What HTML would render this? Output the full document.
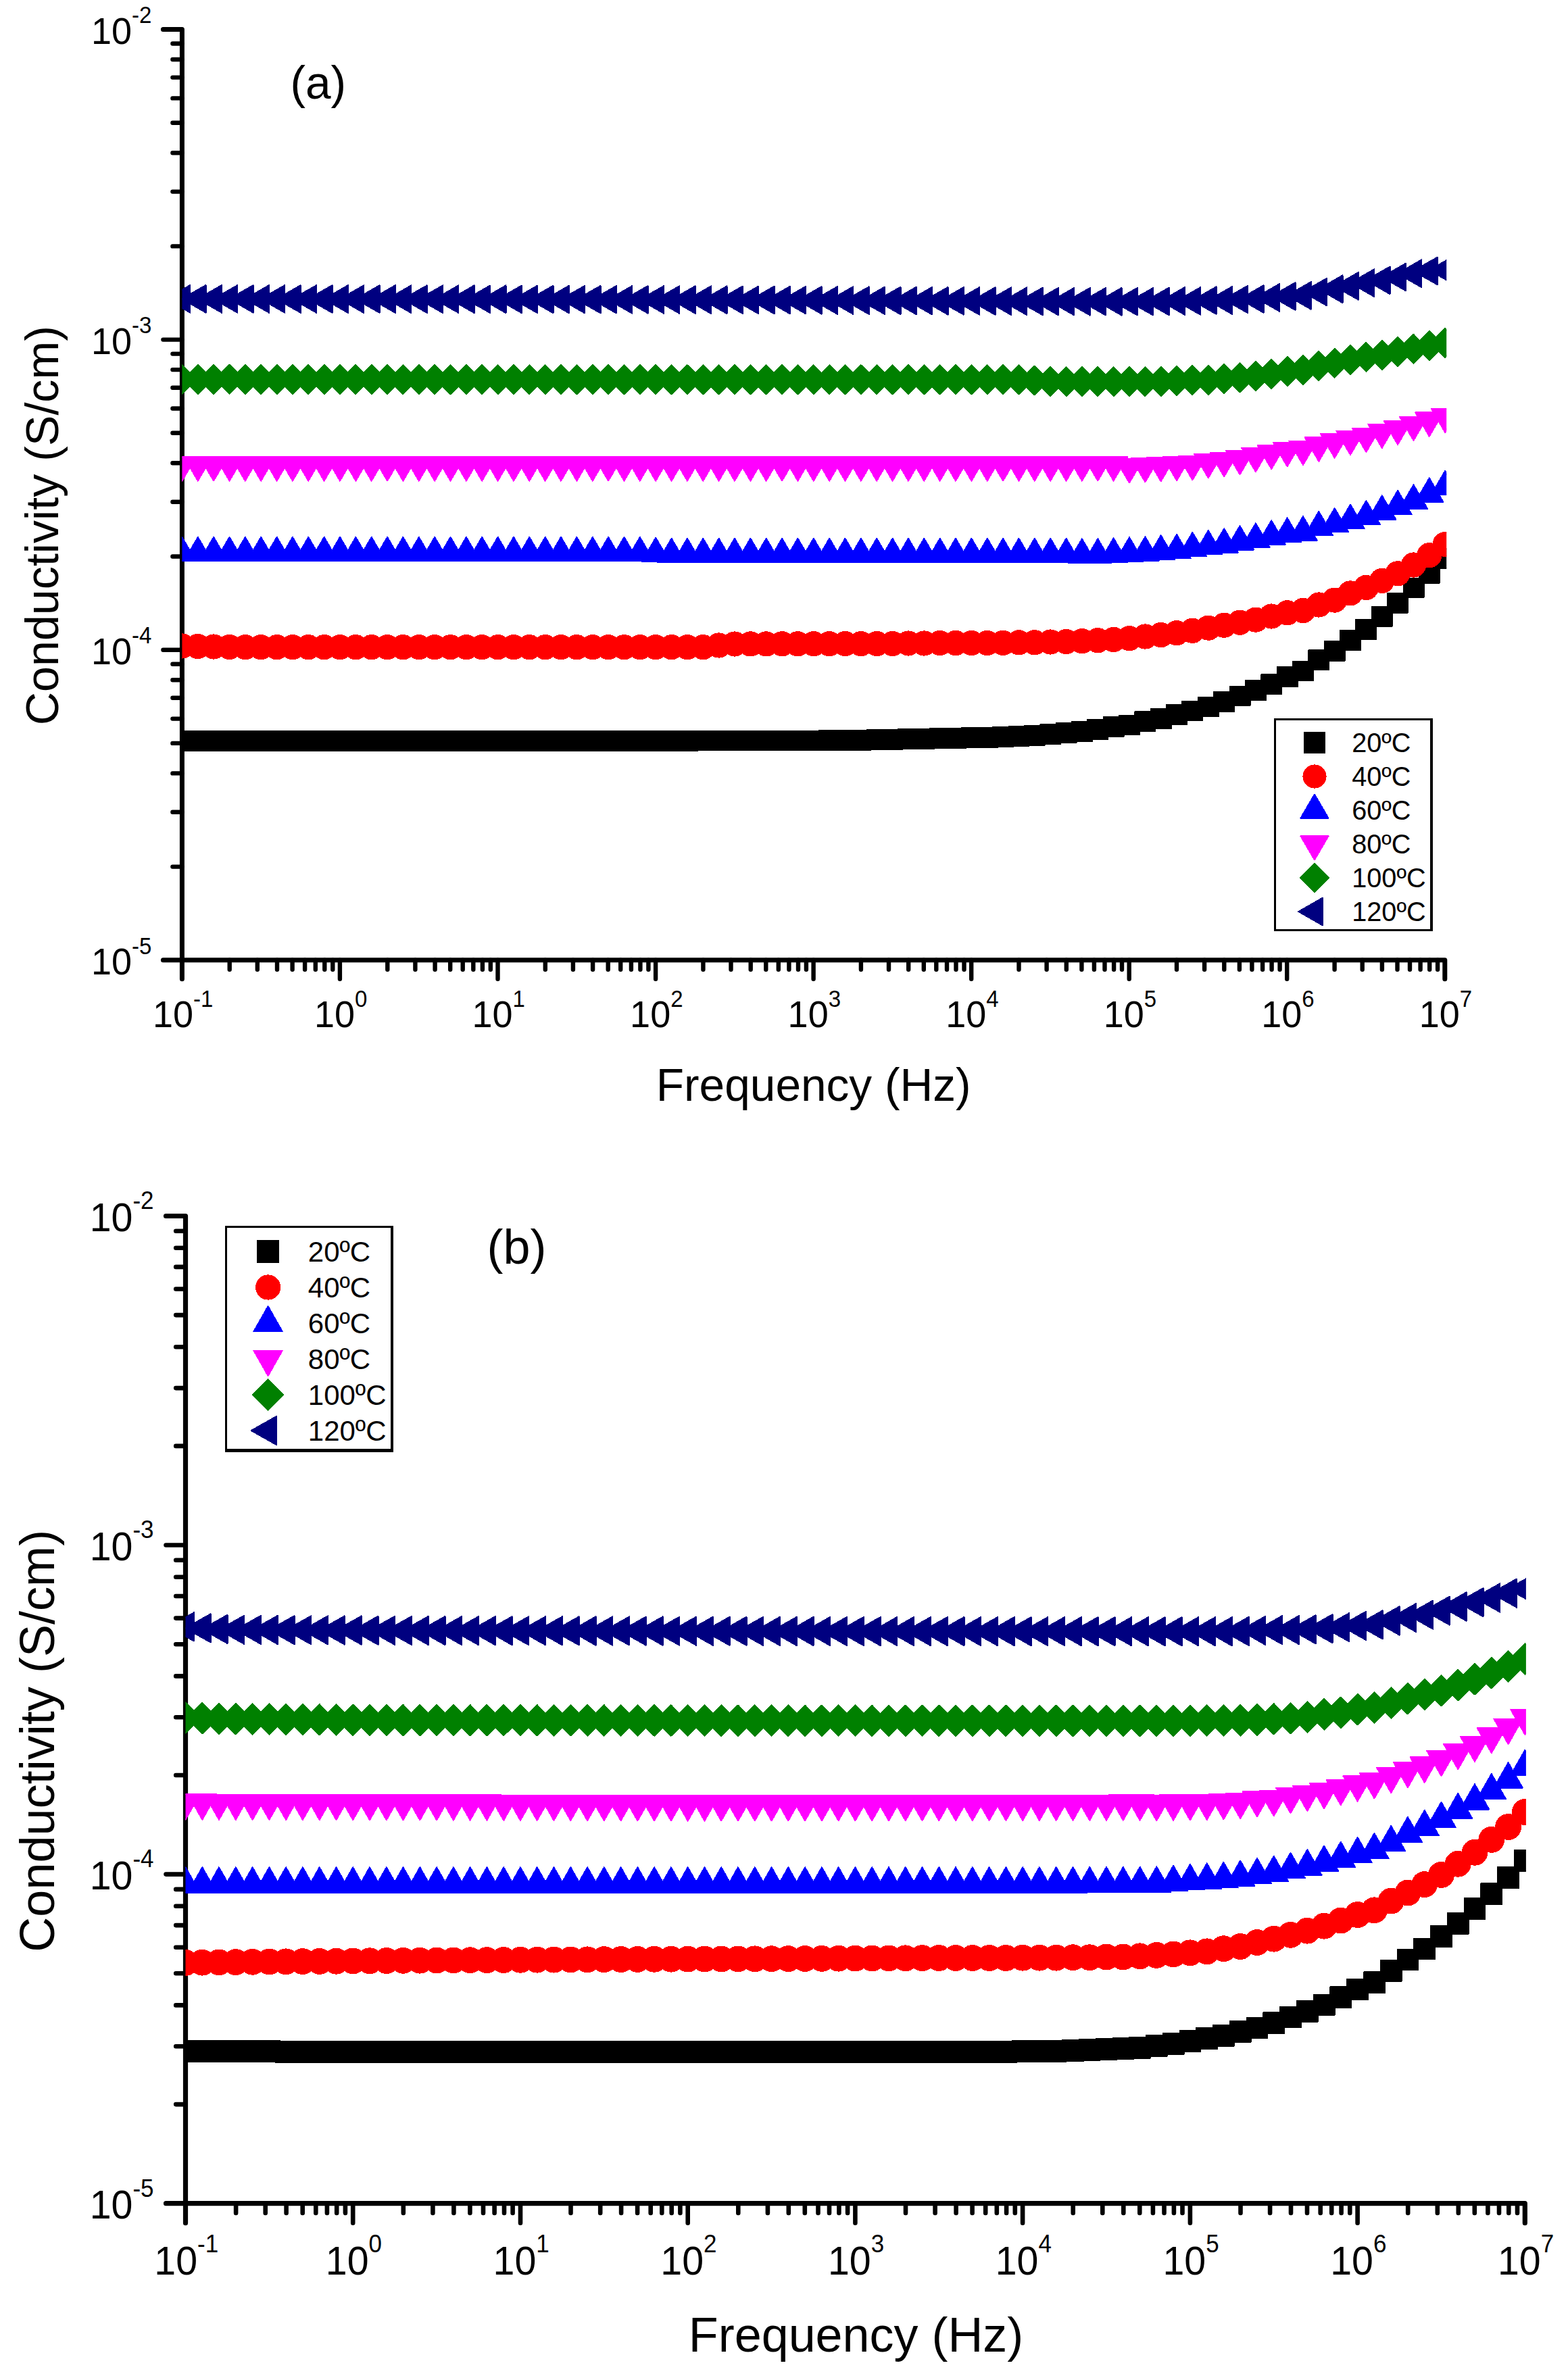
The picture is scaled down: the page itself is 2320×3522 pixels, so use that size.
<!DOCTYPE html>
<html lang="en"><head><meta charset="utf-8"><title>Conductivity vs Frequency</title>
<style>html,body{margin:0;padding:0;background:#fff;overflow:hidden}svg{display:block}text{font-family:'Liberation Sans', sans-serif}</style>
</head><body>
<svg width="2320" height="3522" viewBox="0 0 2320 3522">
<rect width="2320" height="3522" fill="#fff"/>
<g stroke="#000" fill="none" stroke-linecap="round" stroke-linejoin="round">
<path stroke-width="7" d="M241.4 43.5H269.4V1448.8"/>
<path stroke-width="7" d="M241.4 1420.8H2137.8V1448.8"/>
<path stroke-width="6.4" d="M269.4 364.4H255.4M269.4 283.6H255.4M269.4 226.2H255.4M269.4 181.7H255.4M269.4 145.4H255.4M269.4 114.6H255.4M269.4 88H255.4M269.4 64.5H255.4M269.4 502.6H241.4M269.4 823.5H255.4M269.4 742.7H255.4M269.4 685.3H255.4M269.4 640.8H255.4M269.4 604.5H255.4M269.4 573.7H255.4M269.4 547.1H255.4M269.4 523.6H255.4M269.4 961.7H241.4M269.4 1282.6H255.4M269.4 1201.8H255.4M269.4 1144.4H255.4M269.4 1099.9H255.4M269.4 1063.6H255.4M269.4 1032.8H255.4M269.4 1006.2H255.4M269.4 982.7H255.4M339.7 1420.8V1434.8M380.8 1420.8V1434.8M410 1420.8V1434.8M432.6 1420.8V1434.8M451.1 1420.8V1434.8M466.8 1420.8V1434.8M480.3 1420.8V1434.8M492.3 1420.8V1434.8M502.9 1420.8V1448.8M573.3 1420.8V1434.8M614.4 1420.8V1434.8M643.6 1420.8V1434.8M666.2 1420.8V1434.8M684.7 1420.8V1434.8M700.3 1420.8V1434.8M713.9 1420.8V1434.8M725.8 1420.8V1434.8M736.5 1420.8V1448.8M806.8 1420.8V1434.8M847.9 1420.8V1434.8M877.1 1420.8V1434.8M899.7 1420.8V1434.8M918.2 1420.8V1434.8M933.9 1420.8V1434.8M947.4 1420.8V1434.8M959.4 1420.8V1434.8M970.1 1420.8V1448.8M1040.4 1420.8V1434.8M1081.5 1420.8V1434.8M1110.7 1420.8V1434.8M1133.3 1420.8V1434.8M1151.8 1420.8V1434.8M1167.4 1420.8V1434.8M1181 1420.8V1434.8M1192.9 1420.8V1434.8M1203.6 1420.8V1448.8M1273.9 1420.8V1434.8M1315 1420.8V1434.8M1344.2 1420.8V1434.8M1366.8 1420.8V1434.8M1385.3 1420.8V1434.8M1401 1420.8V1434.8M1414.5 1420.8V1434.8M1426.5 1420.8V1434.8M1437.2 1420.8V1448.8M1507.5 1420.8V1434.8M1548.6 1420.8V1434.8M1577.8 1420.8V1434.8M1600.4 1420.8V1434.8M1618.9 1420.8V1434.8M1634.5 1420.8V1434.8M1648.1 1420.8V1434.8M1660 1420.8V1434.8M1670.7 1420.8V1448.8M1741 1420.8V1434.8M1782.1 1420.8V1434.8M1811.3 1420.8V1434.8M1833.9 1420.8V1434.8M1852.4 1420.8V1434.8M1868.1 1420.8V1434.8M1881.6 1420.8V1434.8M1893.6 1420.8V1434.8M1904.2 1420.8V1448.8M1974.6 1420.8V1434.8M2015.7 1420.8V1434.8M2044.9 1420.8V1434.8M2067.5 1420.8V1434.8M2086 1420.8V1434.8M2101.6 1420.8V1434.8M2115.2 1420.8V1434.8M2127.1 1420.8V1434.8"/>
</g>
<g fill="#000">
<text transform="translate(134.9 64.8) scale(1 1.04)" font-size="54" text-anchor="start">10<tspan font-size="33" dy="-29.4">-2</tspan></text>
<text transform="translate(134.9 523.9) scale(1 1.04)" font-size="54" text-anchor="start">10<tspan font-size="33" dy="-29.4">-3</tspan></text>
<text transform="translate(134.9 983) scale(1 1.04)" font-size="54" text-anchor="start">10<tspan font-size="33" dy="-29.4">-4</tspan></text>
<text transform="translate(134.9 1442.1) scale(1 1.04)" font-size="54" text-anchor="start">10<tspan font-size="33" dy="-29.4">-5</tspan></text>
<text transform="translate(270.6 1520.3) scale(1 1.04)" font-size="54" text-anchor="middle">10<tspan font-size="33" dy="-29.4">-1</tspan></text>
<text transform="translate(504.1 1520.3) scale(1 1.04)" font-size="54" text-anchor="middle">10<tspan font-size="33" dy="-29.4">0</tspan></text>
<text transform="translate(737.7 1520.3) scale(1 1.04)" font-size="54" text-anchor="middle">10<tspan font-size="33" dy="-29.4">1</tspan></text>
<text transform="translate(971.3 1520.3) scale(1 1.04)" font-size="54" text-anchor="middle">10<tspan font-size="33" dy="-29.4">2</tspan></text>
<text transform="translate(1204.8 1520.3) scale(1 1.04)" font-size="54" text-anchor="middle">10<tspan font-size="33" dy="-29.4">3</tspan></text>
<text transform="translate(1438.4 1520.3) scale(1 1.04)" font-size="54" text-anchor="middle">10<tspan font-size="33" dy="-29.4">4</tspan></text>
<text transform="translate(1671.9 1520.3) scale(1 1.04)" font-size="54" text-anchor="middle">10<tspan font-size="33" dy="-29.4">5</tspan></text>
<text transform="translate(1905.5 1520.3) scale(1 1.04)" font-size="54" text-anchor="middle">10<tspan font-size="33" dy="-29.4">6</tspan></text>
<text transform="translate(2139 1520.3) scale(1 1.04)" font-size="54" text-anchor="middle">10<tspan font-size="33" dy="-29.4">7</tspan></text>
<text x="1203.7" y="1628.5" font-size="67.6" text-anchor="middle">Frequency (Hz)</text>
<text transform="translate(86.3 777.6) rotate(-90)" font-size="68.2" text-anchor="middle">Conductivity (S/cm)</text>
<text x="429.5" y="145.5" font-size="67.6">(a)</text>
</g>
<clipPath id="clipa"><rect x="269.4" y="23.5" width="1870.8" height="1397.3"/></clipPath>
<g clip-path="url(#clipa)" shape-rendering="crispEdges" stroke-width="2.0" stroke-linejoin="round">
<g fill="#000000" stroke="#000000"><path d="M254.4 1081.8h30v28.9h-30zM277.8 1081.8h30v28.9h-30zM301.1 1081.8h30v28.9h-30zM324.5 1081.8h30v28.9h-30zM347.8 1081.8h30v28.9h-30zM371.2 1081.8h30v28.9h-30zM394.6 1081.8h30v28.9h-30zM417.9 1081.8h30v28.9h-30zM441.3 1081.8h30v28.9h-30zM464.6 1081.8h30v28.9h-30zM488 1081.8h30v28.9h-30zM511.4 1081.9h30v28.9h-30zM534.7 1081.9h30v28.9h-30zM558.1 1081.9h30v28.9h-30zM581.4 1081.9h30v28.9h-30zM604.8 1081.9h30v28.9h-30zM628.2 1081.9h30v28.9h-30zM651.5 1081.9h30v28.9h-30zM674.9 1081.9h30v28.9h-30zM698.2 1081.9h30v28.9h-30zM721.6 1081.9h30v28.9h-30zM745 1081.9h30v28.9h-30zM768.3 1082h30v28.9h-30zM791.7 1082h30v28.9h-30zM815 1082h30v28.9h-30zM838.4 1082h30v28.9h-30zM861.8 1082h30v28.9h-30zM885.1 1082h30v28.9h-30zM908.5 1082h30v28.9h-30zM931.8 1082h30v28.9h-30zM955.2 1082h30v28.9h-30zM978.6 1082h30v28.9h-30zM1001.9 1082h30v28.9h-30zM1025.3 1081.5h30v28.9h-30zM1048.6 1081.5h30v28.9h-30zM1072 1081.5h30v28.9h-30zM1095.4 1081.5h30v28.9h-30zM1118.7 1081.5h30v28.9h-30zM1142.1 1081.5h30v28.9h-30zM1165.4 1081.5h30v28.9h-30zM1188.8 1081.5h30v28.9h-30zM1212.2 1081.2h30v28.9h-30zM1235.5 1080.9h30v28.9h-30zM1258.9 1080.6h30v28.9h-30zM1282.2 1080.3h30v28.9h-30zM1305.6 1079.8h30v28.9h-30zM1329 1079.3h30v28.9h-30zM1352.3 1078.8h30v28.9h-30zM1375.7 1078.3h30v28.9h-30zM1399 1077.9h30v28.9h-30zM1422.4 1077.4h30v28.9h-30zM1445.8 1077h30v28.9h-30zM1469.1 1076.1h30v28.9h-30zM1492.5 1075.2h30v28.9h-30zM1515.8 1073.8h30v28.9h-30zM1539.2 1072.4h30v28.9h-30zM1562.6 1069.9h30v28.9h-30zM1585.9 1068.1h30v28.9h-30zM1609.3 1064.8h30v28.9h-30zM1632.6 1061.2h30v28.9h-30zM1656 1058.5h30v28.9h-30zM1679.4 1053.4h30v28.9h-30zM1702.7 1049.3h30v28.9h-30zM1726.1 1043.3h30v28.9h-30zM1749.4 1037.5h30v28.9h-30zM1772.8 1031.5h30v28.9h-30zM1796.2 1024.2h30v28.9h-30zM1819.5 1015.5h30v28.9h-30zM1842.9 1007.3h30v28.9h-30zM1866.2 998.3h30v28.9h-30zM1889.6 987.4h30v28.9h-30zM1913 978.5h30v28.9h-30zM1936.3 962.3h30v28.9h-30zM1959.7 949h30v28.9h-30zM1983 933.1h30v28.9h-30zM2006.4 916.7h30v28.9h-30zM2029.8 897.8h30v28.9h-30zM2053.1 877.7h30v28.9h-30zM2076.5 855.5h30v28.9h-30zM2099.8 833.8h30v28.9h-30zM2123.2 811.7h30v28.9h-30z"/></g>
<g fill="#ff0000" stroke="#ff0000"><circle cx="269.4" cy="956" r="17.6"/><circle cx="292.8" cy="956.5" r="17.6"/><circle cx="316.1" cy="957" r="17.6"/><circle cx="339.5" cy="957.4" r="17.6"/><circle cx="362.8" cy="957.7" r="17.6"/><circle cx="386.2" cy="957.7" r="17.6"/><circle cx="409.6" cy="957.7" r="17.6"/><circle cx="432.9" cy="957.7" r="17.6"/><circle cx="456.3" cy="957.7" r="17.6"/><circle cx="479.6" cy="957.7" r="17.6"/><circle cx="503" cy="957.7" r="17.6"/><circle cx="526.4" cy="957.7" r="17.6"/><circle cx="549.7" cy="957.7" r="17.6"/><circle cx="573.1" cy="957.7" r="17.6"/><circle cx="596.4" cy="957.7" r="17.6"/><circle cx="619.8" cy="957.7" r="17.6"/><circle cx="643.2" cy="957.7" r="17.6"/><circle cx="666.5" cy="957.7" r="17.6"/><circle cx="689.9" cy="957.7" r="17.6"/><circle cx="713.2" cy="957.7" r="17.6"/><circle cx="736.6" cy="957.7" r="17.6"/><circle cx="760" cy="957.7" r="17.6"/><circle cx="783.3" cy="957.7" r="17.6"/><circle cx="806.7" cy="957.7" r="17.6"/><circle cx="830" cy="957.7" r="17.6"/><circle cx="853.4" cy="957.7" r="17.6"/><circle cx="876.8" cy="957.7" r="17.6"/><circle cx="900.1" cy="957.7" r="17.6"/><circle cx="923.5" cy="957.7" r="17.6"/><circle cx="946.8" cy="957.7" r="17.6"/><circle cx="970.2" cy="957.7" r="17.6"/><circle cx="993.6" cy="957.7" r="17.6"/><circle cx="1016.9" cy="957.7" r="17.6"/><circle cx="1040.3" cy="957.7" r="17.6"/><circle cx="1063.6" cy="955" r="17.6"/><circle cx="1087" cy="953" r="17.6"/><circle cx="1110.4" cy="952.9" r="17.6"/><circle cx="1133.7" cy="952.9" r="17.6"/><circle cx="1157.1" cy="952.8" r="17.6"/><circle cx="1180.4" cy="952.8" r="17.6"/><circle cx="1203.8" cy="952.7" r="17.6"/><circle cx="1227.2" cy="952.7" r="17.6"/><circle cx="1250.5" cy="952.6" r="17.6"/><circle cx="1273.9" cy="952.6" r="17.6"/><circle cx="1297.2" cy="952.5" r="17.6"/><circle cx="1320.6" cy="952.5" r="17.6"/><circle cx="1344" cy="952" r="17.6"/><circle cx="1367.3" cy="952" r="17.6"/><circle cx="1390.7" cy="951.5" r="17.6"/><circle cx="1414" cy="951.5" r="17.6"/><circle cx="1437.4" cy="951.5" r="17.6"/><circle cx="1460.8" cy="951.5" r="17.6"/><circle cx="1484.1" cy="951.3" r="17.6"/><circle cx="1507.5" cy="950.8" r="17.6"/><circle cx="1530.8" cy="950.8" r="17.6"/><circle cx="1554.2" cy="950" r="17.6"/><circle cx="1577.6" cy="949.5" r="17.6"/><circle cx="1600.9" cy="948.7" r="17.6"/><circle cx="1624.3" cy="947.7" r="17.6"/><circle cx="1647.6" cy="946.4" r="17.6"/><circle cx="1671" cy="944.6" r="17.6"/><circle cx="1694.4" cy="942" r="17.6"/><circle cx="1717.7" cy="939.6" r="17.6"/><circle cx="1741.1" cy="936.7" r="17.6"/><circle cx="1764.4" cy="933.3" r="17.6"/><circle cx="1787.8" cy="929.2" r="17.6"/><circle cx="1811.2" cy="925.2" r="17.6"/><circle cx="1834.5" cy="921.2" r="17.6"/><circle cx="1857.9" cy="917.1" r="17.6"/><circle cx="1881.2" cy="912" r="17.6"/><circle cx="1904.6" cy="906.8" r="17.6"/><circle cx="1928" cy="903.5" r="17.6"/><circle cx="1951.3" cy="895" r="17.6"/><circle cx="1974.7" cy="888.1" r="17.6"/><circle cx="1998" cy="877.9" r="17.6"/><circle cx="2021.4" cy="869.4" r="17.6"/><circle cx="2044.8" cy="859.4" r="17.6"/><circle cx="2068.1" cy="848.8" r="17.6"/><circle cx="2091.5" cy="836" r="17.6"/><circle cx="2114.8" cy="821.6" r="17.6"/><circle cx="2138.2" cy="805.5" r="17.6"/></g>
<g fill="#0000ff" stroke="#0000ff"><path d="M269.4 794.9L290 830.2L248.8 830.2zM292.8 794.9L313.4 830.2L272.2 830.2zM316.1 794.9L336.7 830.2L295.5 830.2zM339.5 794.9L360.1 830.2L318.9 830.2zM362.8 794.9L383.4 830.2L342.2 830.2zM386.2 794.9L406.8 830.2L365.6 830.2zM409.6 794.9L430.2 830.2L389 830.2zM432.9 794.9L453.5 830.2L412.3 830.2zM456.3 794.9L476.9 830.2L435.7 830.2zM479.6 794.9L500.2 830.2L459 830.2zM503 794.9L523.6 830.2L482.4 830.2zM526.4 794.9L547 830.2L505.8 830.2zM549.7 794.9L570.3 830.2L529.1 830.2zM573.1 794.9L593.7 830.2L552.5 830.2zM596.4 794.9L617 830.2L575.8 830.2zM619.8 794.9L640.4 830.2L599.2 830.2zM643.2 794.9L663.8 830.2L622.6 830.2zM666.5 794.9L687.1 830.2L645.9 830.2zM689.9 794.9L710.5 830.2L669.3 830.2zM713.2 794.9L733.8 830.2L692.6 830.2zM736.6 794.9L757.2 830.2L716 830.2zM760 794.9L780.6 830.2L739.4 830.2zM783.3 794.9L803.9 830.2L762.7 830.2zM806.7 794.9L827.3 830.2L786.1 830.2zM830 794.9L850.6 830.2L809.4 830.2zM853.4 794.9L874 830.2L832.8 830.2zM876.8 794.9L897.4 830.2L856.2 830.2zM900.1 794.9L920.7 830.2L879.5 830.2zM923.5 794.9L944.1 830.2L902.9 830.2zM946.8 794.9L967.4 830.2L926.2 830.2zM970.2 795.8L990.8 831.1L949.6 831.1zM993.6 796.8L1014.2 832.1L973 832.1zM1016.9 796.8L1037.5 832.1L996.3 832.1zM1040.3 796.8L1060.9 832.1L1019.7 832.1zM1063.6 796.8L1084.2 832.1L1043 832.1zM1087 796.8L1107.6 832.1L1066.4 832.1zM1110.4 796.8L1131 832.1L1089.8 832.1zM1133.7 796.8L1154.3 832.1L1113.1 832.1zM1157.1 796.8L1177.7 832.1L1136.5 832.1zM1180.4 796.8L1201 832.1L1159.8 832.1zM1203.8 796.8L1224.4 832.1L1183.2 832.1zM1227.2 796.8L1247.8 832.1L1206.6 832.1zM1250.5 796.8L1271.1 832.1L1229.9 832.1zM1273.9 796.8L1294.5 832.1L1253.3 832.1zM1297.2 796.8L1317.8 832.1L1276.6 832.1zM1320.6 796.8L1341.2 832.1L1300 832.1zM1344 796.8L1364.6 832.1L1323.4 832.1zM1367.3 796.8L1387.9 832.1L1346.7 832.1zM1390.7 796.8L1411.3 832.1L1370.1 832.1zM1414 796.8L1434.6 832.1L1393.4 832.1zM1437.4 796.8L1458 832.1L1416.8 832.1zM1460.8 796.8L1481.4 832.1L1440.2 832.1zM1484.1 796.8L1504.7 832.1L1463.5 832.1zM1507.5 796.8L1528.1 832.1L1486.9 832.1zM1530.8 796.8L1551.4 832.1L1510.2 832.1zM1554.2 796.8L1574.8 832.1L1533.6 832.1zM1577.6 796.8L1598.2 832.1L1557 832.1zM1600.9 797.4L1621.5 832.7L1580.3 832.7zM1624.3 797.4L1644.9 832.7L1603.7 832.7zM1647.6 796.4L1668.2 831.7L1627 831.7zM1671 795.3L1691.6 830.6L1650.4 830.6zM1694.4 794.3L1715 829.6L1673.8 829.6zM1717.7 792.3L1738.3 827.6L1697.1 827.6zM1741.1 791L1761.7 826.3L1720.5 826.3zM1764.4 787.9L1785 823.2L1743.8 823.2zM1787.8 785.1L1808.4 820.4L1767.2 820.4zM1811.2 782.3L1831.8 817.6L1790.6 817.6zM1834.5 778.2L1855.1 813.5L1813.9 813.5zM1857.9 774.4L1878.5 809.7L1837.3 809.7zM1881.2 770.3L1901.8 805.6L1860.6 805.6zM1904.6 766.5L1925.2 801.8L1884 801.8zM1928 764.2L1948.6 799.5L1907.4 799.5zM1951.3 757L1971.9 792.3L1930.7 792.3zM1974.7 752.1L1995.3 787.4L1954.1 787.4zM1998 746.7L2018.6 782L1977.4 782zM2021.4 741L2042 776.3L2000.8 776.3zM2044.8 733.5L2065.4 768.8L2024.2 768.8zM2068.1 726L2088.7 761.3L2047.5 761.3zM2091.5 717.5L2112.1 752.8L2070.9 752.8zM2114.8 707.5L2135.4 742.8L2094.2 742.8zM2138.2 696.8L2158.8 732.1L2117.6 732.1z"/></g>
<g fill="#ff00ff" stroke="#ff00ff"><path d="M269.4 711.6L290 676.3L248.8 676.3zM292.8 711.6L313.4 676.3L272.2 676.3zM316.1 711.6L336.7 676.3L295.5 676.3zM339.5 711.6L360.1 676.3L318.9 676.3zM362.8 711.6L383.4 676.3L342.2 676.3zM386.2 711.6L406.8 676.3L365.6 676.3zM409.6 711.6L430.2 676.3L389 676.3zM432.9 711.6L453.5 676.3L412.3 676.3zM456.3 711.6L476.9 676.3L435.7 676.3zM479.6 711.6L500.2 676.3L459 676.3zM503 711.6L523.6 676.3L482.4 676.3zM526.4 711.6L547 676.3L505.8 676.3zM549.7 711.6L570.3 676.3L529.1 676.3zM573.1 711.6L593.7 676.3L552.5 676.3zM596.4 711.6L617 676.3L575.8 676.3zM619.8 711.6L640.4 676.3L599.2 676.3zM643.2 711.6L663.8 676.3L622.6 676.3zM666.5 711.6L687.1 676.3L645.9 676.3zM689.9 711.6L710.5 676.3L669.3 676.3zM713.2 711.6L733.8 676.3L692.6 676.3zM736.6 711.6L757.2 676.3L716 676.3zM760 711.6L780.6 676.3L739.4 676.3zM783.3 711.6L803.9 676.3L762.7 676.3zM806.7 711.6L827.3 676.3L786.1 676.3zM830 711.6L850.6 676.3L809.4 676.3zM853.4 711.6L874 676.3L832.8 676.3zM876.8 711.6L897.4 676.3L856.2 676.3zM900.1 711.6L920.7 676.3L879.5 676.3zM923.5 711.6L944.1 676.3L902.9 676.3zM946.8 711.6L967.4 676.3L926.2 676.3zM970.2 711.6L990.8 676.3L949.6 676.3zM993.6 711.6L1014.2 676.3L973 676.3zM1016.9 711.6L1037.5 676.3L996.3 676.3zM1040.3 711.6L1060.9 676.3L1019.7 676.3zM1063.6 711.6L1084.2 676.3L1043 676.3zM1087 711.6L1107.6 676.3L1066.4 676.3zM1110.4 711.6L1131 676.3L1089.8 676.3zM1133.7 711.6L1154.3 676.3L1113.1 676.3zM1157.1 711.6L1177.7 676.3L1136.5 676.3zM1180.4 711.6L1201 676.3L1159.8 676.3zM1203.8 711.6L1224.4 676.3L1183.2 676.3zM1227.2 711.6L1247.8 676.3L1206.6 676.3zM1250.5 711.6L1271.1 676.3L1229.9 676.3zM1273.9 711.6L1294.5 676.3L1253.3 676.3zM1297.2 711.6L1317.8 676.3L1276.6 676.3zM1320.6 711.6L1341.2 676.3L1300 676.3zM1344 711.6L1364.6 676.3L1323.4 676.3zM1367.3 711.6L1387.9 676.3L1346.7 676.3zM1390.7 711.6L1411.3 676.3L1370.1 676.3zM1414 711.6L1434.6 676.3L1393.4 676.3zM1437.4 711.6L1458 676.3L1416.8 676.3zM1460.8 711.6L1481.4 676.3L1440.2 676.3zM1484.1 711.6L1504.7 676.3L1463.5 676.3zM1507.5 711.6L1528.1 676.3L1486.9 676.3zM1530.8 711.6L1551.4 676.3L1510.2 676.3zM1554.2 711.6L1574.8 676.3L1533.6 676.3zM1577.6 711.6L1598.2 676.3L1557 676.3zM1600.9 711.6L1621.5 676.3L1580.3 676.3zM1624.3 711.5L1644.9 676.2L1603.7 676.2zM1647.6 711.5L1668.2 676.2L1627 676.2zM1671 714.5L1691.6 679.2L1650.4 679.2zM1694.4 713.4L1715 678.1L1673.8 678.1zM1717.7 712.3L1738.3 677L1697.1 677zM1741.1 711.2L1761.7 675.9L1720.5 675.9zM1764.4 710.3L1785 675L1743.8 675zM1787.8 707.2L1808.4 671.9L1767.2 671.9zM1811.2 705.3L1831.8 670L1790.6 670zM1834.5 702.2L1855.1 666.9L1813.9 666.9zM1857.9 698.2L1878.5 662.9L1837.3 662.9zM1881.2 694.1L1901.8 658.8L1860.6 658.8zM1904.6 690.3L1925.2 655L1884 655zM1928 688L1948.6 652.7L1907.4 652.7zM1951.3 682.7L1971.9 647.4L1930.7 647.4zM1974.7 677.6L1995.3 642.3L1954.1 642.3zM1998 673L2018.6 637.7L1977.4 637.7zM2021.4 669L2042 633.7L2000.8 633.7zM2044.8 662.9L2065.4 627.6L2024.2 627.6zM2068.1 657.9L2088.7 622.6L2047.5 622.6zM2091.5 651.8L2112.1 616.5L2070.9 616.5zM2114.8 645.7L2135.4 610.4L2094.2 610.4zM2138.2 639.9L2158.8 604.6L2117.6 604.6z"/></g>
<g fill="#008000" stroke="#008000"><path d="M269.4 539.9L290.9 561.4L269.4 582.9L247.9 561.4zM292.8 539.9L314.3 561.4L292.8 582.9L271.3 561.4zM316.1 539.9L337.6 561.4L316.1 582.9L294.6 561.4zM339.5 539.9L361 561.4L339.5 582.9L318 561.4zM362.8 539.9L384.3 561.4L362.8 582.9L341.3 561.4zM386.2 540L407.7 561.5L386.2 583L364.7 561.5zM409.6 540L431.1 561.5L409.6 583L388.1 561.5zM432.9 540L454.4 561.5L432.9 583L411.4 561.5zM456.3 540L477.8 561.5L456.3 583L434.8 561.5zM479.6 540L501.1 561.5L479.6 583L458.1 561.5zM503 540L524.5 561.5L503 583L481.5 561.5zM526.4 540L547.9 561.5L526.4 583L504.9 561.5zM549.7 540L571.2 561.5L549.7 583L528.2 561.5zM573.1 540L594.6 561.5L573.1 583L551.6 561.5zM596.4 540.1L617.9 561.6L596.4 583.1L574.9 561.6zM619.8 540.1L641.3 561.6L619.8 583.1L598.3 561.6zM643.2 540.1L664.7 561.6L643.2 583.1L621.7 561.6zM666.5 540.1L688 561.6L666.5 583.1L645 561.6zM689.9 540.1L711.4 561.6L689.9 583.1L668.4 561.6zM713.2 540.1L734.7 561.6L713.2 583.1L691.7 561.6zM736.6 540.1L758.1 561.6L736.6 583.1L715.1 561.6zM760 540.1L781.5 561.6L760 583.1L738.5 561.6zM783.3 540.2L804.8 561.7L783.3 583.2L761.8 561.7zM806.7 540.2L828.2 561.7L806.7 583.2L785.2 561.7zM830 540.2L851.5 561.7L830 583.2L808.5 561.7zM853.4 540.2L874.9 561.7L853.4 583.2L831.9 561.7zM876.8 540.2L898.3 561.7L876.8 583.2L855.3 561.7zM900.1 540.2L921.6 561.7L900.1 583.2L878.6 561.7zM923.5 540.2L945 561.7L923.5 583.2L902 561.7zM946.8 540.2L968.3 561.7L946.8 583.2L925.3 561.7zM970.2 540.2L991.7 561.7L970.2 583.2L948.7 561.7zM993.6 540.3L1015.1 561.8L993.6 583.3L972.1 561.8zM1016.9 540.3L1038.4 561.8L1016.9 583.3L995.4 561.8zM1040.3 540.3L1061.8 561.8L1040.3 583.3L1018.8 561.8zM1063.6 540.3L1085.1 561.8L1063.6 583.3L1042.1 561.8zM1087 540.3L1108.5 561.8L1087 583.3L1065.5 561.8zM1110.4 540.3L1131.9 561.8L1110.4 583.3L1088.9 561.8zM1133.7 540.3L1155.2 561.8L1133.7 583.3L1112.2 561.8zM1157.1 540.3L1178.6 561.8L1157.1 583.3L1135.6 561.8zM1180.4 540.3L1201.9 561.8L1180.4 583.3L1158.9 561.8zM1203.8 540.3L1225.3 561.8L1203.8 583.3L1182.3 561.8zM1227.2 540.3L1248.7 561.8L1227.2 583.3L1205.7 561.8zM1250.5 540.3L1272 561.8L1250.5 583.3L1229 561.8zM1273.9 540.3L1295.4 561.8L1273.9 583.3L1252.4 561.8zM1297.2 540.3L1318.7 561.8L1297.2 583.3L1275.7 561.8zM1320.6 540.3L1342.1 561.8L1320.6 583.3L1299.1 561.8zM1344 540.3L1365.5 561.8L1344 583.3L1322.5 561.8zM1367.3 540.3L1388.8 561.8L1367.3 583.3L1345.8 561.8zM1390.7 540.3L1412.2 561.8L1390.7 583.3L1369.2 561.8zM1414 540.3L1435.5 561.8L1414 583.3L1392.5 561.8zM1437.4 540.3L1458.9 561.8L1437.4 583.3L1415.9 561.8zM1460.8 540.3L1482.3 561.8L1460.8 583.3L1439.3 561.8zM1484.1 540.3L1505.6 561.8L1484.1 583.3L1462.6 561.8zM1507.5 540.3L1529 561.8L1507.5 583.3L1486 561.8zM1530.8 541.5L1552.3 563L1530.8 584.5L1509.3 563zM1554.2 543.1L1575.7 564.6L1554.2 586.1L1532.7 564.6zM1577.6 543.1L1599.1 564.6L1577.6 586.1L1556.1 564.6zM1600.9 543.1L1622.4 564.6L1600.9 586.1L1579.4 564.6zM1624.3 543.1L1645.8 564.6L1624.3 586.1L1602.8 564.6zM1647.6 543.1L1669.1 564.6L1647.6 586.1L1626.1 564.6zM1671 543.1L1692.5 564.6L1671 586.1L1649.5 564.6zM1694.4 543.1L1715.9 564.6L1694.4 586.1L1672.9 564.6zM1717.7 543.1L1739.2 564.6L1717.7 586.1L1696.2 564.6zM1741.1 542.1L1762.6 563.6L1741.1 585.1L1719.6 563.6zM1764.4 541L1785.9 562.5L1764.4 584L1742.9 562.5zM1787.8 541L1809.3 562.5L1787.8 584L1766.3 562.5zM1811.2 539L1832.7 560.5L1811.2 582L1789.7 560.5zM1834.5 537.2L1856 558.7L1834.5 580.2L1813 558.7zM1857.9 534.9L1879.4 556.4L1857.9 577.9L1836.4 556.4zM1881.2 532.1L1902.7 553.6L1881.2 575.1L1859.7 553.6zM1904.6 528L1926.1 549.5L1904.6 571L1883.1 549.5zM1928 525.9L1949.5 547.4L1928 568.9L1906.5 547.4zM1951.3 519.9L1972.8 541.4L1951.3 562.9L1929.8 541.4zM1974.7 515.8L1996.2 537.3L1974.7 558.8L1953.2 537.3zM1998 511L2019.5 532.5L1998 554L1976.5 532.5zM2021.4 506.9L2042.9 528.4L2021.4 549.9L1999.9 528.4zM2044.8 504L2066.3 525.5L2044.8 547L2023.3 525.5zM2068.1 498.9L2089.6 520.4L2068.1 541.9L2046.6 520.4zM2091.5 494.9L2113 516.4L2091.5 537.9L2070 516.4zM2114.8 490L2136.3 511.5L2114.8 533L2093.3 511.5zM2138.2 485.9L2159.7 507.4L2138.2 528.9L2116.7 507.4z"/></g>
<g fill="#000080" stroke="#000080"><path d="M245.7 442.3L281.3 422L281.3 462.6zM269 442.3L304.6 422L304.6 462.6zM292.4 442.4L328 422.1L328 462.7zM315.7 442.4L351.3 422.1L351.3 462.7zM339.1 442.4L374.7 422.1L374.7 462.7zM362.5 442.4L398.1 422.1L398.1 462.7zM385.8 442.4L421.4 422.1L421.4 462.8zM409.2 442.5L444.8 422.2L444.8 462.8zM432.5 442.5L468.1 422.2L468.1 462.8zM455.9 442.5L491.5 422.2L491.5 462.8zM479.3 442.6L514.9 422.2L514.9 462.9zM502.6 442.6L538.2 422.3L538.2 462.9zM526 442.6L561.6 422.3L561.6 462.9zM549.3 442.6L584.9 422.3L584.9 462.9zM572.7 442.7L608.3 422.4L608.3 463zM596.1 442.7L631.7 422.4L631.7 463zM619.4 442.7L655 422.4L655 463zM642.8 442.7L678.4 422.4L678.4 463zM666.1 442.8L701.7 422.4L701.7 463.1zM689.5 442.8L725.1 422.5L725.1 463.1zM712.9 442.8L748.5 422.5L748.5 463.1zM736.2 442.9L771.8 422.6L771.8 463.2zM759.6 442.9L795.2 422.6L795.2 463.2zM782.9 443L818.5 422.7L818.5 463.3zM806.3 443.1L841.9 422.8L841.9 463.4zM829.7 443.1L865.3 422.8L865.3 463.4zM853 443.2L888.6 422.9L888.6 463.5zM876.4 443.3L912 423L912 463.6zM899.7 443.4L935.3 423.1L935.3 463.7zM923.1 443.4L958.7 423.1L958.7 463.7zM946.5 443.5L982.1 423.2L982.1 463.8zM969.8 443.6L1005.4 423.3L1005.4 463.9zM993.2 443.6L1028.8 423.3L1028.8 463.9zM1016.5 443.7L1052.1 423.4L1052.1 464zM1039.9 443.8L1075.5 423.5L1075.5 464.1zM1063.3 443.8L1098.9 423.5L1098.9 464.1zM1086.6 443.9L1122.2 423.6L1122.2 464.2zM1110 444L1145.6 423.7L1145.6 464.3zM1133.3 444.1L1168.9 423.8L1168.9 464.4zM1156.7 444.2L1192.3 423.9L1192.3 464.5zM1180.1 444.4L1215.7 424.1L1215.7 464.7zM1203.4 444.5L1239 424.2L1239 464.8zM1226.8 444.6L1262.4 424.3L1262.4 464.9zM1250.1 444.7L1285.7 424.4L1285.7 465zM1273.5 444.8L1309.1 424.5L1309.1 465.1zM1296.9 444.9L1332.5 424.6L1332.5 465.2zM1320.2 445L1355.8 424.7L1355.8 465.3zM1343.6 445.2L1379.2 424.9L1379.2 465.5zM1366.9 445.3L1402.5 425L1402.5 465.6zM1390.3 445.4L1425.9 425.1L1425.9 465.7zM1413.7 445.5L1449.3 425.2L1449.3 465.8zM1437 445.6L1472.6 425.3L1472.6 465.9zM1460.4 445.7L1496 425.4L1496 466zM1483.7 445.8L1519.3 425.5L1519.3 466.1zM1507.1 446L1542.7 425.7L1542.7 466.3zM1530.5 446.1L1566.1 425.8L1566.1 466.4zM1553.8 446.2L1589.4 425.9L1589.4 466.5zM1577.2 446.3L1612.8 426L1612.8 466.6zM1600.5 446.3L1636.1 426L1636.1 466.6zM1623.9 446.3L1659.5 426L1659.5 466.6zM1647.3 446.3L1682.9 426L1682.9 466.6zM1670.6 446.3L1706.2 426L1706.2 466.6zM1694 446L1729.6 425.7L1729.6 466.3zM1717.3 445.5L1752.9 425.2L1752.9 465.8zM1740.7 445.5L1776.3 425.2L1776.3 465.8zM1764.1 444.6L1799.7 424.3L1799.7 464.9zM1787.4 444.5L1823 424.2L1823 464.8zM1810.8 443L1846.4 422.7L1846.4 463.3zM1834.1 442.5L1869.7 422.2L1869.7 462.8zM1857.5 440.4L1893.1 420.1L1893.1 460.7zM1880.9 438.5L1916.5 418.2L1916.5 458.8zM1904.2 437.4L1939.8 417.1L1939.8 457.7zM1927.6 432.1L1963.2 411.8L1963.2 452.4zM1950.9 427.8L1986.5 407.5L1986.5 448.1zM1974.3 423.4L2009.9 403.1L2009.9 443.7zM1997.7 418.7L2033.3 398.4L2033.3 439zM2021 414.9L2056.6 394.6L2056.6 435.2zM2044.4 410L2080 389.7L2080 430.3zM2067.7 404.8L2103.3 384.5L2103.3 425.1zM2091.1 401L2126.7 380.7L2126.7 421.3zM2114.5 399.8L2150.1 379.5L2150.1 420.1z"/></g>
</g>
<path fill="#000" fill-rule="evenodd" shape-rendering="crispEdges" d="M1885.2 1062.9H2120V1378H1885.2zM1887.7 1065.9H2116.2V1374.6H1887.7z"/>
<g shape-rendering="crispEdges" stroke-width="2.0" stroke-linejoin="round">
<g fill="#000000" stroke="#000000"><path d="M1930 1084h30v30h-30z"/></g>
<g fill="#ff0000" stroke="#ff0000"><circle cx="1945" cy="1149" r="16.6"/></g>
<g fill="#0000ff" stroke="#0000ff"><path d="M1945 1175.5L1965.6 1210.8L1924.4 1210.8z"/></g>
<g fill="#ff00ff" stroke="#ff00ff"><path d="M1945 1272.5L1965.6 1237.2L1924.4 1237.2z"/></g>
<g fill="#008000" stroke="#008000"><path d="M1945 1277.5L1966.5 1299L1945 1320.5L1923.5 1299z"/></g>
<g fill="#000080" stroke="#000080"><path d="M1921.3 1349L1956.9 1328.7L1956.9 1369.3z"/></g>
</g>
<g fill="#000" font-size="39.7">
<text transform="translate(2000.2 1113) scale(1 1.03)">20ºC</text>
<text transform="translate(2000.2 1163) scale(1 1.03)">40ºC</text>
<text transform="translate(2000.2 1213) scale(1 1.03)">60ºC</text>
<text transform="translate(2000.2 1263) scale(1 1.03)">80ºC</text>
<text transform="translate(2000.2 1313) scale(1 1.03)">100ºC</text>
<text transform="translate(2000.2 1363) scale(1 1.03)">120ºC</text>
</g>
<g stroke="#000" fill="none" stroke-linecap="round" stroke-linejoin="round">
<path stroke-width="7.2" d="M245.5 1799.5H274.5V3289.7"/>
<path stroke-width="7.2" d="M245.5 3260.7H2256.3V3289.7"/>
<path stroke-width="6.6" d="M274.5 2139.9H260.2M274.5 2054.1H260.2M274.5 1993.3H260.2M274.5 1946.1H260.2M274.5 1907.5H260.2M274.5 1874.9H260.2M274.5 1846.7H260.2M274.5 1821.7H260.2M274.5 2286.5H245.5M274.5 2627H260.2M274.5 2541.2H260.2M274.5 2480.4H260.2M274.5 2433.2H260.2M274.5 2394.6H260.2M274.5 2362H260.2M274.5 2333.7H260.2M274.5 2308.8H260.2M274.5 2773.6H245.5M274.5 3114.1H260.2M274.5 3028.3H260.2M274.5 2967.4H260.2M274.5 2920.2H260.2M274.5 2881.7H260.2M274.5 2849.1H260.2M274.5 2820.8H260.2M274.5 2795.9H260.2M349.1 3260.7V3275M392.7 3260.7V3275M423.6 3260.7V3275M447.7 3260.7V3275M467.3 3260.7V3275M483.9 3260.7V3275M498.2 3260.7V3275M510.9 3260.7V3275M522.2 3260.7V3289.7M596.8 3260.7V3275M640.4 3260.7V3275M671.4 3260.7V3275M695.4 3260.7V3275M715 3260.7V3275M731.6 3260.7V3275M746 3260.7V3275M758.6 3260.7V3275M770 3260.7V3289.7M844.5 3260.7V3275M888.2 3260.7V3275M919.1 3260.7V3275M943.1 3260.7V3275M962.7 3260.7V3275M979.3 3260.7V3275M993.7 3260.7V3275M1006.4 3260.7V3275M1017.7 3260.7V3289.7M1092.3 3260.7V3275M1135.9 3260.7V3275M1166.8 3260.7V3275M1190.8 3260.7V3275M1210.5 3260.7V3275M1227 3260.7V3275M1241.4 3260.7V3275M1254.1 3260.7V3275M1265.4 3260.7V3289.7M1340 3260.7V3275M1383.6 3260.7V3275M1414.6 3260.7V3275M1438.6 3260.7V3275M1458.2 3260.7V3275M1474.8 3260.7V3275M1489.1 3260.7V3275M1501.8 3260.7V3275M1513.1 3260.7V3289.7M1587.7 3260.7V3275M1631.3 3260.7V3275M1662.3 3260.7V3275M1686.3 3260.7V3275M1705.9 3260.7V3275M1722.5 3260.7V3275M1736.9 3260.7V3275M1749.5 3260.7V3275M1760.9 3260.7V3289.7M1835.5 3260.7V3275M1879.1 3260.7V3275M1910 3260.7V3275M1934 3260.7V3275M1953.7 3260.7V3275M1970.2 3260.7V3275M1984.6 3260.7V3275M1997.3 3260.7V3275M2008.6 3260.7V3289.7M2083.2 3260.7V3275M2126.8 3260.7V3275M2157.8 3260.7V3275M2181.8 3260.7V3275M2201.4 3260.7V3275M2218 3260.7V3275M2232.3 3260.7V3275M2245 3260.7V3275"/>
</g>
<g fill="#000">
<text transform="translate(132.7 1821.8) scale(1 1.04)" font-size="57.3" text-anchor="start">10<tspan font-size="35" dy="-31.2">-2</tspan></text>
<text transform="translate(132.7 2308.8) scale(1 1.04)" font-size="57.3" text-anchor="start">10<tspan font-size="35" dy="-31.2">-3</tspan></text>
<text transform="translate(132.7 2795.9) scale(1 1.04)" font-size="57.3" text-anchor="start">10<tspan font-size="35" dy="-31.2">-4</tspan></text>
<text transform="translate(132.7 3283) scale(1 1.04)" font-size="57.3" text-anchor="start">10<tspan font-size="35" dy="-31.2">-5</tspan></text>
<text transform="translate(275.7 3365.7) scale(1 1.04)" font-size="57.3" text-anchor="middle">10<tspan font-size="35" dy="-31.2">-1</tspan></text>
<text transform="translate(523.4 3365.7) scale(1 1.04)" font-size="57.3" text-anchor="middle">10<tspan font-size="35" dy="-31.2">0</tspan></text>
<text transform="translate(771.2 3365.7) scale(1 1.04)" font-size="57.3" text-anchor="middle">10<tspan font-size="35" dy="-31.2">1</tspan></text>
<text transform="translate(1018.9 3365.7) scale(1 1.04)" font-size="57.3" text-anchor="middle">10<tspan font-size="35" dy="-31.2">2</tspan></text>
<text transform="translate(1266.6 3365.7) scale(1 1.04)" font-size="57.3" text-anchor="middle">10<tspan font-size="35" dy="-31.2">3</tspan></text>
<text transform="translate(1514.3 3365.7) scale(1 1.04)" font-size="57.3" text-anchor="middle">10<tspan font-size="35" dy="-31.2">4</tspan></text>
<text transform="translate(1762.1 3365.7) scale(1 1.04)" font-size="57.3" text-anchor="middle">10<tspan font-size="35" dy="-31.2">5</tspan></text>
<text transform="translate(2009.8 3365.7) scale(1 1.04)" font-size="57.3" text-anchor="middle">10<tspan font-size="35" dy="-31.2">6</tspan></text>
<text transform="translate(2257.5 3365.7) scale(1 1.04)" font-size="57.3" text-anchor="middle">10<tspan font-size="35" dy="-31.2">7</tspan></text>
<text x="1266.5" y="3479.5" font-size="71.9" text-anchor="middle">Frequency (Hz)</text>
<text transform="translate(80.3 2576.3) rotate(-90)" font-size="72.1" text-anchor="middle">Conductivity (S/cm)</text>
<text x="720.5" y="1870.3" font-size="71.9">(b)</text>
</g>
<clipPath id="clipb"><rect x="274.5" y="1779.5" width="1983.4" height="1481.2"/></clipPath>
<g clip-path="url(#clipb)" shape-rendering="crispEdges" stroke-width="2.0" stroke-linejoin="round">
<g fill="#000000" stroke="#000000"><path d="M259.1 3020.2h30.8v30.6h-30.8zM283.9 3020.2h30.8v30.6h-30.8zM308.6 3020.2h30.8v30.6h-30.8zM333.4 3020.2h30.8v30.6h-30.8zM358.2 3020.2h30.8v30.6h-30.8zM383 3020.2h30.8v30.6h-30.8zM407.7 3021h30.8v30.6h-30.8zM432.5 3021h30.8v30.6h-30.8zM457.3 3021h30.8v30.6h-30.8zM482.1 3021h30.8v30.6h-30.8zM506.8 3021h30.8v30.6h-30.8zM531.6 3021h30.8v30.6h-30.8zM556.4 3021h30.8v30.6h-30.8zM581.1 3021h30.8v30.6h-30.8zM605.9 3021h30.8v30.6h-30.8zM630.7 3021h30.8v30.6h-30.8zM655.5 3021h30.8v30.6h-30.8zM680.2 3021.1h30.8v30.6h-30.8zM705 3021.1h30.8v30.6h-30.8zM729.8 3021.1h30.8v30.6h-30.8zM754.6 3021.1h30.8v30.6h-30.8zM779.3 3021.1h30.8v30.6h-30.8zM804.1 3021.1h30.8v30.6h-30.8zM828.9 3021.1h30.8v30.6h-30.8zM853.7 3021.1h30.8v30.6h-30.8zM878.4 3021.1h30.8v30.6h-30.8zM903.2 3021.1h30.8v30.6h-30.8zM928 3021.1h30.8v30.6h-30.8zM952.7 3021.1h30.8v30.6h-30.8zM977.5 3021.1h30.8v30.6h-30.8zM1002.3 3021.1h30.8v30.6h-30.8zM1027.1 3021.1h30.8v30.6h-30.8zM1051.8 3021.1h30.8v30.6h-30.8zM1076.6 3021.1h30.8v30.6h-30.8zM1101.4 3021.1h30.8v30.6h-30.8zM1126.2 3021.1h30.8v30.6h-30.8zM1150.9 3021.1h30.8v30.6h-30.8zM1175.7 3021.1h30.8v30.6h-30.8zM1200.5 3021.1h30.8v30.6h-30.8zM1225.2 3021.2h30.8v30.6h-30.8zM1250 3021.2h30.8v30.6h-30.8zM1274.8 3021.2h30.8v30.6h-30.8zM1299.6 3021.2h30.8v30.6h-30.8zM1324.3 3021.2h30.8v30.6h-30.8zM1349.1 3021.2h30.8v30.6h-30.8zM1373.9 3021.2h30.8v30.6h-30.8zM1398.7 3021.2h30.8v30.6h-30.8zM1423.4 3021.2h30.8v30.6h-30.8zM1448.2 3021.2h30.8v30.6h-30.8zM1473 3021.2h30.8v30.6h-30.8zM1497.8 3020h30.8v30.6h-30.8zM1522.5 3020h30.8v30.6h-30.8zM1547.3 3020h30.8v30.6h-30.8zM1572.1 3019.2h30.8v30.6h-30.8zM1596.8 3018.4h30.8v30.6h-30.8zM1621.6 3017.4h30.8v30.6h-30.8zM1646.4 3016.1h30.8v30.6h-30.8zM1671.2 3014.9h30.8v30.6h-30.8zM1695.9 3012.1h30.8v30.6h-30.8zM1720.7 3009h30.8v30.6h-30.8zM1745.5 3005.3h30.8v30.6h-30.8zM1770.3 3001.1h30.8v30.6h-30.8zM1795 2997h30.8v30.6h-30.8zM1819.8 2991.4h30.8v30.6h-30.8zM1844.6 2985.5h30.8v30.6h-30.8zM1869.3 2978.4h30.8v30.6h-30.8zM1894.1 2969.5h30.8v30.6h-30.8zM1918.9 2961.3h30.8v30.6h-30.8zM1943.7 2951.6h30.8v30.6h-30.8zM1968.4 2940.4h30.8v30.6h-30.8zM1993.2 2928.6h30.8v30.6h-30.8zM2018 2918.4h30.8v30.6h-30.8zM2042.8 2901.3h30.8v30.6h-30.8zM2067.5 2884.5h30.8v30.6h-30.8zM2092.3 2868.6h30.8v30.6h-30.8zM2117.1 2850.2h30.8v30.6h-30.8zM2141.8 2831h30.8v30.6h-30.8zM2166.6 2809.3h30.8v30.6h-30.8zM2191.4 2787.3h30.8v30.6h-30.8zM2216.2 2763.2h30.8v30.6h-30.8zM2240.9 2738.2h30.8v30.6h-30.8z"/></g>
<g fill="#ff0000" stroke="#ff0000"><circle cx="274.5" cy="2904.5" r="18.4"/><circle cx="299.3" cy="2904.2" r="18.4"/><circle cx="324" cy="2903.9" r="18.4"/><circle cx="348.8" cy="2903.6" r="18.4"/><circle cx="373.6" cy="2903.3" r="18.4"/><circle cx="398.4" cy="2903" r="18.4"/><circle cx="423.1" cy="2902.8" r="18.4"/><circle cx="447.9" cy="2902.6" r="18.4"/><circle cx="472.7" cy="2902.4" r="18.4"/><circle cx="497.5" cy="2902.2" r="18.4"/><circle cx="522.2" cy="2901.9" r="18.4"/><circle cx="547" cy="2901.7" r="18.4"/><circle cx="571.8" cy="2901.5" r="18.4"/><circle cx="596.5" cy="2901.3" r="18.4"/><circle cx="621.3" cy="2901.2" r="18.4"/><circle cx="646.1" cy="2901" r="18.4"/><circle cx="670.9" cy="2900.9" r="18.4"/><circle cx="695.6" cy="2900.7" r="18.4"/><circle cx="720.4" cy="2900.6" r="18.4"/><circle cx="745.2" cy="2900.5" r="18.4"/><circle cx="770" cy="2900.3" r="18.4"/><circle cx="794.7" cy="2900.2" r="18.4"/><circle cx="819.5" cy="2900.1" r="18.4"/><circle cx="844.3" cy="2899.9" r="18.4"/><circle cx="869.1" cy="2899.8" r="18.4"/><circle cx="893.8" cy="2899.6" r="18.4"/><circle cx="918.6" cy="2899.5" r="18.4"/><circle cx="943.4" cy="2899.4" r="18.4"/><circle cx="968.1" cy="2899.3" r="18.4"/><circle cx="992.9" cy="2899.2" r="18.4"/><circle cx="1017.7" cy="2899.1" r="18.4"/><circle cx="1042.5" cy="2899" r="18.4"/><circle cx="1067.2" cy="2899" r="18.4"/><circle cx="1092" cy="2898.9" r="18.4"/><circle cx="1116.8" cy="2898.8" r="18.4"/><circle cx="1141.6" cy="2898.7" r="18.4"/><circle cx="1166.3" cy="2898.6" r="18.4"/><circle cx="1191.1" cy="2898.5" r="18.4"/><circle cx="1215.9" cy="2898.4" r="18.4"/><circle cx="1240.6" cy="2898.2" r="18.4"/><circle cx="1265.4" cy="2898.1" r="18.4"/><circle cx="1290.2" cy="2898" r="18.4"/><circle cx="1315" cy="2897.9" r="18.4"/><circle cx="1339.7" cy="2897.8" r="18.4"/><circle cx="1364.5" cy="2897.6" r="18.4"/><circle cx="1389.3" cy="2897.5" r="18.4"/><circle cx="1414.1" cy="2897.5" r="18.4"/><circle cx="1438.8" cy="2897.5" r="18.4"/><circle cx="1463.6" cy="2897.5" r="18.4"/><circle cx="1488.4" cy="2897.5" r="18.4"/><circle cx="1513.2" cy="2897.2" r="18.4"/><circle cx="1537.9" cy="2897.2" r="18.4"/><circle cx="1562.7" cy="2897.2" r="18.4"/><circle cx="1587.5" cy="2896.7" r="18.4"/><circle cx="1612.2" cy="2896.7" r="18.4"/><circle cx="1637" cy="2896" r="18.4"/><circle cx="1661.8" cy="2896" r="18.4"/><circle cx="1686.6" cy="2894.8" r="18.4"/><circle cx="1711.3" cy="2893.4" r="18.4"/><circle cx="1736.1" cy="2891.9" r="18.4"/><circle cx="1760.9" cy="2889.8" r="18.4"/><circle cx="1785.7" cy="2887.8" r="18.4"/><circle cx="1810.4" cy="2883.7" r="18.4"/><circle cx="1835.2" cy="2880.5" r="18.4"/><circle cx="1860" cy="2874.5" r="18.4"/><circle cx="1884.7" cy="2869.2" r="18.4"/><circle cx="1909.5" cy="2863.3" r="18.4"/><circle cx="1934.3" cy="2857.2" r="18.4"/><circle cx="1959.1" cy="2850.2" r="18.4"/><circle cx="1983.8" cy="2842.1" r="18.4"/><circle cx="2008.6" cy="2833.5" r="18.4"/><circle cx="2033.4" cy="2826.8" r="18.4"/><circle cx="2058.2" cy="2813.1" r="18.4"/><circle cx="2082.9" cy="2801.1" r="18.4"/><circle cx="2107.7" cy="2788.6" r="18.4"/><circle cx="2132.5" cy="2774.5" r="18.4"/><circle cx="2157.2" cy="2758.3" r="18.4"/><circle cx="2182" cy="2741.3" r="18.4"/><circle cx="2206.8" cy="2722.4" r="18.4"/><circle cx="2231.6" cy="2703.5" r="18.4"/><circle cx="2256.3" cy="2681.5" r="18.4"/></g>
<g fill="#0000ff" stroke="#0000ff"><path d="M274.5 2763.4L295.7 2800.7L253.3 2800.7zM299.3 2763.4L320.5 2800.7L278.1 2800.7zM324 2763.4L345.2 2800.7L302.8 2800.7zM348.8 2763.4L370 2800.7L327.6 2800.7zM373.6 2763.4L394.8 2800.7L352.4 2800.7zM398.4 2763.4L419.6 2800.7L377.2 2800.7zM423.1 2763.4L444.3 2800.7L401.9 2800.7zM447.9 2763.4L469.1 2800.7L426.7 2800.7zM472.7 2763.4L493.9 2800.7L451.5 2800.7zM497.5 2763.4L518.7 2800.7L476.3 2800.7zM522.2 2763.4L543.4 2800.7L501 2800.7zM547 2763.4L568.2 2800.7L525.8 2800.7zM571.8 2763.4L593 2800.7L550.6 2800.7zM596.5 2763.4L617.7 2800.7L575.3 2800.7zM621.3 2763.4L642.5 2800.7L600.1 2800.7zM646.1 2763.4L667.3 2800.7L624.9 2800.7zM670.9 2763.4L692.1 2800.7L649.7 2800.7zM695.6 2763.4L716.8 2800.7L674.4 2800.7zM720.4 2763.4L741.6 2800.7L699.2 2800.7zM745.2 2763.4L766.4 2800.7L724 2800.7zM770 2763.4L791.2 2800.7L748.8 2800.7zM794.7 2763.4L815.9 2800.7L773.5 2800.7zM819.5 2763.4L840.7 2800.7L798.3 2800.7zM844.3 2763.4L865.5 2800.7L823.1 2800.7zM869.1 2763.4L890.3 2800.7L847.9 2800.7zM893.8 2763.4L915 2800.7L872.6 2800.7zM918.6 2763.4L939.8 2800.7L897.4 2800.7zM943.4 2763.4L964.6 2800.7L922.2 2800.7zM968.1 2763.4L989.3 2800.7L946.9 2800.7zM992.9 2763.4L1014.1 2800.7L971.7 2800.7zM1017.7 2763.4L1038.9 2800.7L996.5 2800.7zM1042.5 2763.4L1063.7 2800.7L1021.3 2800.7zM1067.2 2763.4L1088.4 2800.7L1046 2800.7zM1092 2763.4L1113.2 2800.7L1070.8 2800.7zM1116.8 2763.4L1138 2800.7L1095.6 2800.7zM1141.6 2763.4L1162.8 2800.7L1120.4 2800.7zM1166.3 2763.4L1187.5 2800.7L1145.1 2800.7zM1191.1 2763.4L1212.3 2800.7L1169.9 2800.7zM1215.9 2763.4L1237.1 2800.7L1194.7 2800.7zM1240.6 2763.4L1261.8 2800.7L1219.4 2800.7zM1265.4 2763.4L1286.6 2800.7L1244.2 2800.7zM1290.2 2763.4L1311.4 2800.7L1269 2800.7zM1315 2763.3L1336.2 2800.6L1293.8 2800.6zM1339.7 2763.3L1360.9 2800.6L1318.5 2800.6zM1364.5 2763.3L1385.7 2800.6L1343.3 2800.6zM1389.3 2763.3L1410.5 2800.6L1368.1 2800.6zM1414.1 2763.3L1435.3 2800.6L1392.9 2800.6zM1438.8 2763.3L1460 2800.6L1417.6 2800.6zM1463.6 2763.3L1484.8 2800.6L1442.4 2800.6zM1488.4 2763.3L1509.6 2800.6L1467.2 2800.6zM1513.2 2763.3L1534.4 2800.6L1492 2800.6zM1537.9 2763.3L1559.1 2800.6L1516.7 2800.6zM1562.7 2763.2L1583.9 2800.5L1541.5 2800.5zM1587.5 2763.2L1608.7 2800.5L1566.3 2800.5zM1612.2 2763.1L1633.4 2800.4L1591 2800.4zM1637 2763L1658.2 2800.3L1615.8 2800.3zM1661.8 2763L1683 2800.3L1640.6 2800.3zM1686.6 2762.9L1707.8 2800.2L1665.4 2800.2zM1711.3 2762.5L1732.5 2799.8L1690.1 2799.8zM1736.1 2760.9L1757.3 2798.2L1714.9 2798.2zM1760.9 2758.9L1782.1 2796.2L1739.7 2796.2zM1785.7 2757.5L1806.9 2794.8L1764.5 2794.8zM1810.4 2755.9L1831.6 2793.2L1789.2 2793.2zM1835.2 2753.5L1856.4 2790.8L1814 2790.8zM1860 2750L1881.2 2787.3L1838.8 2787.3zM1884.7 2746.8L1905.9 2784.1L1863.5 2784.1zM1909.5 2741.8L1930.7 2779.1L1888.3 2779.1zM1934.3 2737.2L1955.5 2774.5L1913.1 2774.5zM1959.1 2731.7L1980.3 2769L1937.9 2769zM1983.8 2725.7L2005 2763L1962.6 2763zM2008.6 2719.1L2029.8 2756.4L1987.4 2756.4zM2033.4 2713L2054.6 2750.3L2012.2 2750.3zM2058.2 2702.1L2079.4 2739.4L2037 2739.4zM2082.9 2689L2104.1 2726.3L2061.7 2726.3zM2107.7 2679L2128.9 2716.3L2086.5 2716.3zM2132.5 2666.9L2153.7 2704.2L2111.3 2704.2zM2157.2 2654L2178.4 2691.3L2136 2691.3zM2182 2640.2L2203.2 2677.5L2160.8 2677.5zM2206.8 2625L2228 2662.3L2185.6 2662.3zM2231.6 2608.4L2252.8 2645.7L2210.4 2645.7zM2256.3 2590L2277.5 2627.3L2235.1 2627.3z"/></g>
<g fill="#ff00ff" stroke="#ff00ff"><path d="M274.5 2692.7L295.7 2655.4L253.3 2655.4zM299.3 2692.7L320.5 2655.4L278.1 2655.4zM324 2692.8L345.2 2655.5L302.8 2655.5zM348.8 2692.8L370 2655.5L327.6 2655.5zM373.6 2692.9L394.8 2655.6L352.4 2655.6zM398.4 2692.9L419.6 2655.6L377.2 2655.6zM423.1 2693L444.3 2655.7L401.9 2655.7zM447.9 2693L469.1 2655.7L426.7 2655.7zM472.7 2693.1L493.9 2655.8L451.5 2655.8zM497.5 2693.2L518.7 2655.9L476.3 2655.9zM522.2 2693.2L543.4 2655.9L501 2655.9zM547 2693.3L568.2 2656L525.8 2656zM571.8 2693.3L593 2656L550.6 2656zM596.5 2693.4L617.7 2656.1L575.3 2656.1zM621.3 2693.4L642.5 2656.1L600.1 2656.1zM646.1 2693.5L667.3 2656.2L624.9 2656.2zM670.9 2693.6L692.1 2656.3L649.7 2656.3zM695.6 2693.6L716.8 2656.3L674.4 2656.3zM720.4 2693.7L741.6 2656.4L699.2 2656.4zM745.2 2693.8L766.4 2656.5L724 2656.5zM770 2693.9L791.2 2656.6L748.8 2656.6zM794.7 2693.9L815.9 2656.6L773.5 2656.6zM819.5 2694L840.7 2656.7L798.3 2656.7zM844.3 2694.1L865.5 2656.8L823.1 2656.8zM869.1 2694.1L890.3 2656.8L847.9 2656.8zM893.8 2694.2L915 2656.9L872.6 2656.9zM918.6 2694.3L939.8 2657L897.4 2657zM943.4 2694.4L964.6 2657.1L922.2 2657.1zM968.1 2694.4L989.3 2657.1L946.9 2657.1zM992.9 2694.5L1014.1 2657.2L971.7 2657.2zM1017.7 2694.6L1038.9 2657.3L996.5 2657.3zM1042.5 2694.5L1063.7 2657.2L1021.3 2657.2zM1067.2 2694.5L1088.4 2657.2L1046 2657.2zM1092 2694.5L1113.2 2657.2L1070.8 2657.2zM1116.8 2694.5L1138 2657.2L1095.6 2657.2zM1141.6 2694.4L1162.8 2657.1L1120.4 2657.1zM1166.3 2694.4L1187.5 2657.1L1145.1 2657.1zM1191.1 2694.4L1212.3 2657.1L1169.9 2657.1zM1215.9 2694.4L1237.1 2657.1L1194.7 2657.1zM1240.6 2694.3L1261.8 2657L1219.4 2657zM1265.4 2694.3L1286.6 2657L1244.2 2657zM1290.2 2694.3L1311.4 2657L1269 2657zM1315 2694.2L1336.2 2656.9L1293.8 2656.9zM1339.7 2694.2L1360.9 2656.9L1318.5 2656.9zM1364.5 2694.2L1385.7 2656.9L1343.3 2656.9zM1389.3 2694.2L1410.5 2656.9L1368.1 2656.9zM1414.1 2694.1L1435.3 2656.8L1392.9 2656.8zM1438.8 2694.1L1460 2656.8L1417.6 2656.8zM1463.6 2694L1484.8 2656.7L1442.4 2656.7zM1488.4 2694L1509.6 2656.7L1467.2 2656.7zM1513.2 2694L1534.4 2656.7L1492 2656.7zM1537.9 2693.9L1559.1 2656.6L1516.7 2656.6zM1562.7 2693.9L1583.9 2656.6L1541.5 2656.6zM1587.5 2693.8L1608.7 2656.5L1566.3 2656.5zM1612.2 2693.8L1633.4 2656.5L1591 2656.5zM1637 2693.8L1658.2 2656.5L1615.8 2656.5zM1661.8 2693.7L1683 2656.4L1640.6 2656.4zM1686.6 2693.7L1707.8 2656.4L1665.4 2656.4zM1711.3 2694.2L1732.5 2656.9L1690.1 2656.9zM1736.1 2693.7L1757.3 2656.4L1714.9 2656.4zM1760.9 2693.5L1782.1 2656.2L1739.7 2656.2zM1785.7 2693L1806.9 2655.7L1764.5 2655.7zM1810.4 2692.3L1831.6 2655L1789.2 2655zM1835.2 2691.2L1856.4 2653.9L1814 2653.9zM1860 2688.4L1881.2 2651.1L1838.8 2651.1zM1884.7 2687.3L1905.9 2650L1863.5 2650zM1909.5 2683.2L1930.7 2645.9L1888.3 2645.9zM1934.3 2679.9L1955.5 2642.6L1913.1 2642.6zM1959.1 2676.3L1980.3 2639L1937.9 2639zM1983.8 2671.2L2005 2633.9L1962.6 2633.9zM2008.6 2665.5L2029.8 2628.2L1987.4 2628.2zM2033.4 2661.3L2054.6 2624L2012.2 2624zM2058.2 2653.1L2079.4 2615.8L2037 2615.8zM2082.9 2645.1L2104.1 2607.8L2061.7 2607.8zM2107.7 2637.7L2128.9 2600.4L2086.5 2600.4zM2132.5 2628.2L2153.7 2590.9L2111.3 2590.9zM2157.2 2618.1L2178.4 2580.8L2136 2580.8zM2182 2606.8L2203.2 2569.5L2160.8 2569.5zM2206.8 2594.2L2228 2556.9L2185.6 2556.9zM2231.6 2580.9L2252.8 2543.6L2210.4 2543.6zM2256.3 2566.8L2277.5 2529.5L2235.1 2529.5z"/></g>
<g fill="#008000" stroke="#008000"><path d="M274.5 2519.5L297.2 2542.2L274.5 2564.9L251.8 2542.2zM299.3 2520L322 2542.7L299.3 2565.4L276.6 2542.7zM324 2520.5L346.7 2543.2L324 2565.9L301.3 2543.2zM348.8 2521L371.5 2543.7L348.8 2566.4L326.1 2543.7zM373.6 2521.2L396.3 2543.9L373.6 2566.6L350.9 2543.9zM398.4 2521.4L421.1 2544.1L398.4 2566.8L375.7 2544.1zM423.1 2521.6L445.8 2544.3L423.1 2567L400.4 2544.3zM447.9 2521.9L470.6 2544.6L447.9 2567.3L425.2 2544.6zM472.7 2522.1L495.4 2544.8L472.7 2567.5L450 2544.8zM497.5 2522.3L520.2 2545L497.5 2567.7L474.8 2545zM522.2 2522.5L544.9 2545.2L522.2 2567.9L499.5 2545.2zM547 2522.6L569.7 2545.3L547 2568L524.3 2545.3zM571.8 2522.8L594.5 2545.5L571.8 2568.2L549.1 2545.5zM596.5 2522.9L619.2 2545.6L596.5 2568.3L573.8 2545.6zM621.3 2522.9L644 2545.6L621.3 2568.3L598.6 2545.6zM646.1 2523L668.8 2545.7L646.1 2568.3L623.4 2545.7zM670.9 2523L693.6 2545.7L670.9 2568.4L648.2 2545.7zM695.6 2523L718.3 2545.7L695.6 2568.4L672.9 2545.7zM720.4 2523L743.1 2545.7L720.4 2568.4L697.7 2545.7zM745.2 2523.1L767.9 2545.8L745.2 2568.4L722.5 2545.8zM770 2523.1L792.7 2545.8L770 2568.5L747.3 2545.8zM794.7 2523.1L817.4 2545.8L794.7 2568.5L772 2545.8zM819.5 2523.1L842.2 2545.8L819.5 2568.5L796.8 2545.8zM844.3 2523.2L867 2545.8L844.3 2568.5L821.6 2545.8zM869.1 2523.2L891.8 2545.9L869.1 2568.6L846.4 2545.9zM893.8 2523.2L916.5 2545.9L893.8 2568.6L871.1 2545.9zM918.6 2523.2L941.3 2545.9L918.6 2568.6L895.9 2545.9zM943.4 2523.2L966.1 2545.9L943.4 2568.6L920.7 2545.9zM968.1 2523.3L990.8 2546L968.1 2568.7L945.4 2546zM992.9 2523.3L1015.6 2546L992.9 2568.7L970.2 2546zM1017.7 2523.3L1040.4 2546L1017.7 2568.7L995 2546zM1042.5 2523.3L1065.2 2546L1042.5 2568.7L1019.8 2546zM1067.2 2523.4L1089.9 2546.1L1067.2 2568.8L1044.5 2546.1zM1092 2523.4L1114.7 2546.1L1092 2568.8L1069.3 2546.1zM1116.8 2523.4L1139.5 2546.1L1116.8 2568.8L1094.1 2546.1zM1141.6 2523.4L1164.3 2546.1L1141.6 2568.8L1118.9 2546.1zM1166.3 2523.5L1189 2546.2L1166.3 2568.9L1143.6 2546.2zM1191.1 2523.5L1213.8 2546.2L1191.1 2568.9L1168.4 2546.2zM1215.9 2523.5L1238.6 2546.2L1215.9 2568.9L1193.2 2546.2zM1240.6 2523.5L1263.3 2546.2L1240.6 2568.9L1217.9 2546.2zM1265.4 2523.5L1288.1 2546.2L1265.4 2568.9L1242.7 2546.2zM1290.2 2523.6L1312.9 2546.3L1290.2 2569L1267.5 2546.3zM1315 2523.6L1337.7 2546.3L1315 2569L1292.3 2546.3zM1339.7 2523.6L1362.4 2546.3L1339.7 2569L1317 2546.3zM1364.5 2523.6L1387.2 2546.3L1364.5 2569L1341.8 2546.3zM1389.3 2523.6L1412 2546.3L1389.3 2569L1366.6 2546.3zM1414.1 2523.6L1436.8 2546.3L1414.1 2569L1391.4 2546.3zM1438.8 2523.6L1461.5 2546.3L1438.8 2569L1416.1 2546.3zM1463.6 2523.7L1486.3 2546.4L1463.6 2569.1L1440.9 2546.4zM1488.4 2523.7L1511.1 2546.4L1488.4 2569.1L1465.7 2546.4zM1513.2 2523.7L1535.9 2546.4L1513.2 2569.1L1490.5 2546.4zM1537.9 2523.7L1560.6 2546.4L1537.9 2569.1L1515.2 2546.4zM1562.7 2523.7L1585.4 2546.4L1562.7 2569.1L1540 2546.4zM1587.5 2523.7L1610.2 2546.4L1587.5 2569.1L1564.8 2546.4zM1612.2 2523.7L1634.9 2546.4L1612.2 2569.1L1589.5 2546.4zM1637 2523.8L1659.7 2546.5L1637 2569.2L1614.3 2546.5zM1661.8 2523.8L1684.5 2546.5L1661.8 2569.2L1639.1 2546.5zM1686.6 2523.8L1709.3 2546.5L1686.6 2569.2L1663.9 2546.5zM1711.3 2523.8L1734 2546.5L1711.3 2569.2L1688.6 2546.5zM1736.1 2523.8L1758.8 2546.5L1736.1 2569.2L1713.4 2546.5zM1760.9 2523.8L1783.6 2546.5L1760.9 2569.2L1738.2 2546.5zM1785.7 2523.2L1808.4 2545.9L1785.7 2568.6L1763 2545.9zM1810.4 2523.2L1833.1 2545.9L1810.4 2568.6L1787.7 2545.9zM1835.2 2523.2L1857.9 2545.9L1835.2 2568.6L1812.5 2545.9zM1860 2522.3L1882.7 2545L1860 2567.7L1837.3 2545zM1884.7 2521.1L1907.4 2543.8L1884.7 2566.5L1862 2543.8zM1909.5 2520L1932.2 2542.7L1909.5 2565.4L1886.8 2542.7zM1934.3 2518.4L1957 2541.1L1934.3 2563.8L1911.6 2541.1zM1959.1 2514.2L1981.8 2536.9L1959.1 2559.6L1936.4 2536.9zM1983.8 2511.5L2006.5 2534.2L1983.8 2556.9L1961.1 2534.2zM2008.6 2506.9L2031.3 2529.6L2008.6 2552.3L1985.9 2529.6zM2033.4 2504.1L2056.1 2526.8L2033.4 2549.5L2010.7 2526.8zM2058.2 2497.3L2080.9 2520L2058.2 2542.7L2035.5 2520zM2082.9 2491.1L2105.6 2513.8L2082.9 2536.5L2060.2 2513.8zM2107.7 2484.9L2130.4 2507.6L2107.7 2530.2L2085 2507.6zM2132.5 2479L2155.2 2501.7L2132.5 2524.4L2109.8 2501.7zM2157.2 2471.1L2179.9 2493.8L2157.2 2516.5L2134.5 2493.8zM2182 2462.2L2204.7 2484.9L2182 2507.6L2159.3 2484.9zM2206.8 2453.1L2229.5 2475.8L2206.8 2498.5L2184.1 2475.8zM2231.6 2443.1L2254.3 2465.8L2231.6 2488.5L2208.9 2465.8zM2256.3 2432.2L2279 2454.9L2256.3 2477.6L2233.6 2454.9z"/></g>
<g fill="#000080" stroke="#000080"><path d="M249.6 2407.4L287 2386.3L287 2428.5zM274.3 2409.4L311.7 2388.3L311.7 2430.5zM299.1 2410.9L336.5 2389.8L336.5 2432zM323.9 2411.8L361.3 2390.7L361.3 2432.9zM348.7 2411.9L386.1 2390.8L386.1 2433zM373.4 2412L410.8 2390.9L410.8 2433.1zM398.2 2412.2L435.6 2391.1L435.6 2433.3zM423 2412.3L460.4 2391.2L460.4 2433.4zM447.8 2412.4L485.2 2391.3L485.2 2433.5zM472.5 2412.5L509.9 2391.4L509.9 2433.6zM497.3 2412.6L534.7 2391.5L534.7 2433.7zM522.1 2412.8L559.5 2391.7L559.5 2433.9zM546.8 2412.9L584.2 2391.8L584.2 2434zM571.6 2413L609 2391.9L609 2434.1zM596.4 2413L633.8 2391.9L633.8 2434.1zM621.2 2413.1L658.6 2392L658.6 2434.2zM645.9 2413.1L683.3 2392L683.3 2434.2zM670.7 2413.2L708.1 2392.1L708.1 2434.3zM695.5 2413.2L732.9 2392.1L732.9 2434.3zM720.3 2413.2L757.7 2392.2L757.7 2434.3zM745 2413.3L782.4 2392.2L782.4 2434.4zM769.8 2413.3L807.2 2392.2L807.2 2434.4zM794.6 2413.4L832 2392.3L832 2434.5zM819.3 2413.4L856.7 2392.3L856.7 2434.5zM844.1 2413.5L881.5 2392.4L881.5 2434.6zM868.9 2413.5L906.3 2392.4L906.3 2434.6zM893.7 2413.5L931.1 2392.4L931.1 2434.6zM918.4 2413.6L955.8 2392.5L955.8 2434.7zM943.2 2413.6L980.6 2392.5L980.6 2434.7zM968 2413.7L1005.4 2392.6L1005.4 2434.8zM992.8 2413.7L1030.2 2392.6L1030.2 2434.8zM1017.5 2413.8L1054.9 2392.7L1054.9 2434.8zM1042.3 2413.8L1079.7 2392.7L1079.7 2434.9zM1067.1 2413.8L1104.5 2392.7L1104.5 2434.9zM1091.8 2413.9L1129.2 2392.8L1129.2 2435zM1116.6 2413.9L1154 2392.8L1154 2435zM1141.4 2414L1178.8 2392.9L1178.8 2435.1zM1166.2 2414L1203.6 2392.9L1203.6 2435.1zM1190.9 2414L1228.3 2392.9L1228.3 2435.1zM1215.7 2414L1253.1 2392.9L1253.1 2435.1zM1240.5 2414L1277.9 2392.9L1277.9 2435.1zM1265.3 2414.1L1302.7 2393L1302.7 2435.2zM1290 2414.1L1327.4 2393L1327.4 2435.2zM1314.8 2414.1L1352.2 2393L1352.2 2435.2zM1339.6 2414.1L1377 2393L1377 2435.2zM1364.4 2414.1L1401.8 2393L1401.8 2435.2zM1389.1 2414.1L1426.5 2393L1426.5 2435.2zM1413.9 2414.1L1451.3 2393L1451.3 2435.2zM1438.7 2414.2L1476.1 2393.1L1476.1 2435.3zM1463.4 2414.2L1500.8 2393.1L1500.8 2435.3zM1488.2 2414.2L1525.6 2393.1L1525.6 2435.3zM1513 2414.2L1550.4 2393.1L1550.4 2435.3zM1537.8 2414.2L1575.2 2393.1L1575.2 2435.3zM1562.5 2414.2L1599.9 2393.1L1599.9 2435.3zM1587.3 2414.2L1624.7 2393.1L1624.7 2435.3zM1612.1 2414.3L1649.5 2393.2L1649.5 2435.4zM1636.9 2414.3L1674.3 2393.2L1674.3 2435.4zM1661.6 2414.3L1699 2393.2L1699 2435.4zM1686.4 2414.3L1723.8 2393.2L1723.8 2435.4zM1711.2 2414.3L1748.6 2393.2L1748.6 2435.4zM1735.9 2414.3L1773.3 2393.2L1773.3 2435.4zM1760.7 2414.3L1798.1 2393.2L1798.1 2435.4zM1785.5 2414.3L1822.9 2393.2L1822.9 2435.4zM1810.3 2413.9L1847.7 2392.8L1847.7 2435zM1835 2412.9L1872.4 2391.8L1872.4 2434zM1859.8 2412.2L1897.2 2391.1L1897.2 2433.3zM1884.6 2412.2L1922 2391.1L1922 2433.3zM1909.4 2411.3L1946.8 2390.2L1946.8 2432.4zM1934.1 2410.2L1971.5 2389.1L1971.5 2431.3zM1958.9 2408.2L1996.3 2387.1L1996.3 2429.3zM1983.7 2405.8L2021.1 2384.8L2021.1 2426.9zM2008.4 2404.4L2045.8 2383.3L2045.8 2425.5zM2033.2 2398.5L2070.6 2377.4L2070.6 2419.6zM2058 2394L2095.4 2372.9L2095.4 2415.1zM2082.8 2389.6L2120.2 2368.5L2120.2 2410.7zM2107.5 2383.6L2144.9 2362.5L2144.9 2404.7zM2132.3 2377.5L2169.7 2356.4L2169.7 2398.6zM2157.1 2371.2L2194.5 2350.2L2194.5 2392.3zM2181.9 2364.5L2219.3 2343.4L2219.3 2385.6zM2206.6 2357.6L2244 2336.5L2244 2378.7zM2231.4 2351.3L2268.8 2330.2L2268.8 2372.4z"/></g>
</g>
<path fill="#000" fill-rule="evenodd" shape-rendering="crispEdges" d="M333.3 1813.9H582V2148.6H333.3zM336 1817.4H578.1V2144.2H336z"/>
<g shape-rendering="crispEdges" stroke-width="2.0" stroke-linejoin="round">
<g fill="#000000" stroke="#000000"><path d="M380.9 1836.3h31.4v31.4h-31.4z"/></g>
<g fill="#ff0000" stroke="#ff0000"><circle cx="396.6" cy="1905" r="17.6"/></g>
<g fill="#0000ff" stroke="#0000ff"><path d="M396.6 1933.1L417.8 1970.4L375.4 1970.4z"/></g>
<g fill="#ff00ff" stroke="#ff00ff"><path d="M396.6 2035.9L417.8 1998.6L375.4 1998.6z"/></g>
<g fill="#008000" stroke="#008000"><path d="M396.6 2041.3L419.3 2064L396.6 2086.7L373.9 2064z"/></g>
<g fill="#000080" stroke="#000080"><path d="M371.7 2117L409.1 2095.9L409.1 2138.1z"/></g>
</g>
<g fill="#000" font-size="42">
<text transform="translate(455.8 1867) scale(1 1.03)">20ºC</text>
<text transform="translate(455.8 1920) scale(1 1.03)">40ºC</text>
<text transform="translate(455.8 1973) scale(1 1.03)">60ºC</text>
<text transform="translate(455.8 2026) scale(1 1.03)">80ºC</text>
<text transform="translate(455.8 2079) scale(1 1.03)">100ºC</text>
<text transform="translate(455.8 2132) scale(1 1.03)">120ºC</text>
</g>
</svg>
</body></html>
